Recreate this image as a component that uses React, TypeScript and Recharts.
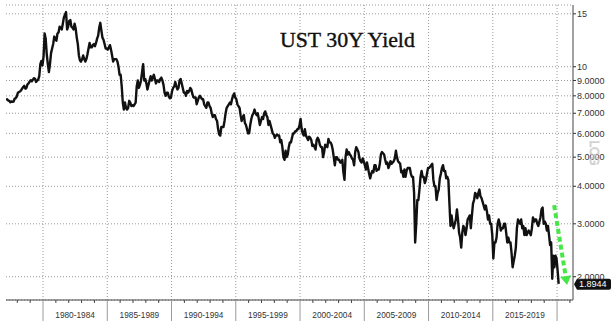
import React from 'react';
import { LineChart, Line, XAxis, YAxis, CartesianGrid, ReferenceLine } from 'recharts';

// Monthly UST 30Y yield, Feb 1977 .. Feb 2020
const startYear = 1977;
const startMonth = 2;
const yields1977_1979 = [
  7.75, 7.80, 7.72, 7.70, 7.62, 7.66, 7.64, 7.66, 7.82, 7.86, 7.96,
  8.18, 8.24, 8.27, 8.34, 8.45, 8.56, 8.64, 8.45, 8.50, 8.74, 8.80, 8.92,
  9.02, 8.94, 9.06, 9.16, 9.12, 8.90, 8.98, 9.06, 9.30, 10.20, 10.45, 10.10,
];
const yields1980_1984 = [
  10.80, 12.90, 12.40, 11.00, 10.20, 9.60, 10.20, 11.10, 11.50, 11.90, 12.60, 12.40,
  12.20, 12.90, 13.00, 13.60, 13.50, 13.30, 13.90, 14.60, 14.90, 15.20, 13.30, 13.60,
  14.20, 14.30, 13.60, 13.50, 13.30, 13.90, 13.40, 12.50, 11.90, 10.90, 10.50, 10.40,
  10.60, 10.90, 10.60, 10.40, 10.60, 11.00, 11.50, 12.00, 11.60, 11.60, 11.80, 11.90,
  11.70, 12.00, 12.40, 12.70, 13.50, 14.00, 13.20, 12.50, 12.30, 11.90, 11.50, 11.50,
];
const yields1985_1989 = [
  11.40, 11.60, 11.80, 11.40, 10.90, 10.40, 10.60, 10.60, 10.60, 10.40, 10.00, 9.40,
  9.40, 8.60, 7.60, 7.20, 7.60, 7.30, 7.20, 7.30, 7.70, 7.60, 7.40, 7.45,
  7.40, 7.50, 7.60, 8.60, 9.00, 8.50, 8.70, 9.00, 9.60, 10.20, 9.00, 9.10,
  8.80, 8.40, 8.70, 9.00, 9.30, 9.00, 9.20, 9.40, 9.10, 8.80, 9.00, 9.00,
  8.90, 9.10, 9.20, 9.00, 8.70, 8.20, 8.00, 8.20, 8.20, 7.95, 7.85, 7.90,
];
const yields1990_1994 = [
  8.30, 8.50, 8.60, 8.90, 8.60, 8.40, 8.50, 9.00, 9.10, 8.80, 8.50, 8.20,
  8.20, 8.00, 8.30, 8.20, 8.30, 8.50, 8.40, 8.10, 7.90, 7.90, 7.90, 7.50,
  7.70, 7.90, 8.00, 7.90, 7.80, 7.80, 7.50, 7.40, 7.30, 7.60, 7.60, 7.40,
  7.30, 7.00, 6.80, 6.90, 6.90, 6.70, 6.60, 6.20, 5.95, 5.90, 6.30, 6.30,
  6.30, 6.60, 7.00, 7.30, 7.40, 7.50, 7.60, 7.50, 7.80, 8.00, 8.15, 7.90,
];
const yields1995_1999 = [
  7.80, 7.50, 7.40, 7.30, 6.90, 6.60, 6.80, 6.90, 6.50, 6.40, 6.20, 6.00,
  6.00, 6.40, 6.70, 6.90, 7.00, 7.20, 7.00, 6.90, 7.00, 6.70, 6.40, 6.60,
  6.80, 6.70, 7.00, 7.10, 6.90, 6.80, 6.40, 6.60, 6.40, 6.20, 6.00, 5.95,
  5.80, 5.90, 5.95, 5.90, 5.90, 5.60, 5.70, 5.40, 5.00, 4.90, 5.25, 5.00,
  5.10, 5.40, 5.60, 5.60, 5.80, 6.00, 6.00, 6.10, 6.10, 6.20, 6.20, 6.40,
];
const yields2000_2004 = [
  6.70, 6.20, 6.00, 5.90, 6.20, 5.90, 5.80, 5.70, 5.85, 5.80, 5.70, 5.45,
  5.50, 5.40, 5.30, 5.70, 5.80, 5.70, 5.50, 5.40, 5.40, 5.00, 5.20, 5.50,
  5.45, 5.40, 5.75, 5.60, 5.60, 5.50, 5.30, 5.00, 4.70, 5.00, 5.00, 4.90,
  4.90, 4.80, 4.80, 4.90, 4.45, 4.20, 5.00, 5.30, 5.10, 5.20, 5.10, 5.05,
  4.95, 4.90, 4.70, 5.20, 5.40, 5.30, 5.20, 4.95, 4.85, 4.80, 4.95, 4.85,
];
const yields2005_2009 = [
  4.70, 4.55, 4.80, 4.60, 4.40, 4.25, 4.40, 4.50, 4.45, 4.70, 4.70, 4.50,
  4.55, 4.55, 4.75, 5.10, 5.20, 5.15, 5.10, 4.90, 4.75, 4.80, 4.60, 4.70,
  4.85, 4.75, 4.80, 4.85, 4.95, 5.25, 5.00, 4.85, 4.80, 4.75, 4.45, 4.50,
  4.30, 4.55, 4.30, 4.50, 4.60, 4.60, 4.60, 4.40, 4.30, 4.30, 3.80, 2.60,
  3.00, 3.60, 3.60, 3.90, 4.30, 4.50, 4.30, 4.30, 4.10, 4.20, 4.40, 4.60,
];
const yields2010_2014 = [
  4.60, 4.65, 4.70, 4.75, 4.20, 4.00, 4.00, 3.60, 3.80, 3.90, 4.25, 4.40,
  4.60, 4.70, 4.50, 4.50, 4.25, 4.30, 4.20, 3.50, 2.95, 3.20, 3.00, 2.90,
  3.00, 3.10, 3.35, 3.10, 2.80, 2.70, 2.50, 2.80, 2.95, 2.90, 2.75, 2.90,
  3.10, 3.15, 3.20, 2.90, 3.20, 3.50, 3.60, 3.80, 3.75, 3.65, 3.80, 3.90,
  3.70, 3.65, 3.55, 3.45, 3.35, 3.45, 3.30, 3.10, 3.20, 3.00, 3.00, 2.75,
];
const yields2015_2019 = [
  2.30, 2.60, 2.60, 2.70, 3.00, 3.10, 3.00, 2.85, 2.90, 2.90, 3.00, 3.00,
  2.80, 2.60, 2.70, 2.60, 2.60, 2.40, 2.15, 2.25, 2.35, 2.50, 2.90, 3.10,
  3.05, 3.00, 3.10, 2.90, 2.95, 2.75, 2.90, 2.75, 2.80, 2.85, 2.80, 2.75,
  2.90, 3.15, 3.05, 3.10, 3.10, 3.00, 2.95, 3.05, 3.15, 3.35, 3.40, 3.00,
  3.05, 3.00, 2.85, 2.95, 2.75, 2.55, 2.60, 1.97, 2.35, 2.15, 2.35, 2.30,
];
const yields2020 = [2.10, 1.8944];

const periodStarts = [1980, 1985, 1990, 1995, 2000, 2005, 2010, 2015];
const periodLabels = ['1980-1984', '1985-1989', '1990-1994', '1995-1999', '2000-2004', '2005-2009', '2010-2014', '2015-2019'];
const separatorYears = [1980, 1985, 1990, 1995, 2000, 2005, 2010, 2015, 2020];
const yearTicks = [1978, 1979, 1981, 1982, 1983, 1984, 1986, 1987, 1988, 1989, 1991, 1992, 1993, 1994, 1996, 1997, 1998, 1999, 2001, 2002, 2003, 2004, 2006, 2007, 2008, 2009, 2011, 2012, 2013, 2014, 2016, 2017, 2018, 2019, 2021];
const yTicks = [2, 3, 4, 5, 6, 7, 8, 9, 10, 15];
const title = 'UST 30Y Yield';
const arrowStart = { t: 2019.77, v: 3.46 };
const arrowEnd = { t: 2020.78, v: 1.877 };

const allYields = [
  ...yields1977_1979, ...yields1980_1984, ...yields1985_1989, ...yields1990_1994,
  ...yields1995_1999, ...yields2000_2004, ...yields2005_2009, ...yields2010_2014,
  ...yields2015_2019, ...yields2020,
];
const data = allYields.map((v, i) => {
  const m = startMonth - 1 + i;
  return { t: startYear + m / 12 + 1 / 24, v };
});
const lastValue = data[data.length - 1].v;
const labelPositions = periodStarts.map((s) => s + 2.5);
const xTicks = [...yearTicks, ...separatorYears, ...labelPositions];

const FONT = '"Liberation Sans", Arial, sans-serif';

const XTick = (props: any) => {
  const { x, y, payload } = props;
  const v = payload.value;
  const li = labelPositions.indexOf(v);
  if (li >= 0) {
    return (
      <text x={x} y={y + 16} textAnchor="middle" dominantBaseline="middle" fontSize={8.3} fontFamily={FONT} fill="#333">
        {periodLabels[li]}
      </text>
    );
  }
  if (separatorYears.indexOf(v) >= 0) {
    return <line x1={x} x2={x} y1={y} y2={y + 21} stroke="#9a9a9a" strokeWidth={1} />;
  }
  return <line x1={x} x2={x} y1={y} y2={y + 3} stroke="#444" strokeWidth={1} />;
};

const fmtY = (v: number) => (v >= 10 ? String(v) : v.toFixed(4));

const ArrowShape = (props: any) => {
  const { x1, y1, x2, y2 } = props;
  if (x1 == null || x2 == null) return null;
  const dx = x2 - x1;
  const dy = y2 - y1;
  const len = Math.sqrt(dx * dx + dy * dy);
  const ux = dx / len;
  const uy = dy / len;
  const headLen = 9;
  const headW = 5.5;
  const bx = x2 - ux * headLen;
  const by = y2 - uy * headLen;
  const px = -uy;
  const py = ux;
  return (
    <g>
      <line x1={x1} y1={y1} x2={bx} y2={by} stroke="#46e646" strokeWidth={4} strokeDasharray="5 3" />
      <polygon
        points={`${x2},${y2} ${bx + px * headW},${by + py * headW} ${bx - px * headW},${by - py * headW}`}
        fill="#46e646"
      />
    </g>
  );
};

const LastLabel = (props: any) => {
  const { viewBox } = props;
  if (!viewBox) return null;
  const x = viewBox.x + viewBox.width;
  const y = viewBox.y + 0.5;
  return (
    <g>
      <path
        d={`M${x + 1},${y} L${x + 4},${y - 5.5} L${x + 36},${y - 5.5} Q${x + 38},${y - 5.5} ${x + 38},${y - 3.5} L${x + 38},${y + 3.5} Q${x + 38},${y + 5.5} ${x + 36},${y + 5.5} L${x + 4},${y + 5.5} Z`}
        fill="#111"
      />
      <text x={x + 6} y={y + 0.5} dominantBaseline="middle" fontSize={9} fontFamily={FONT} fill="#fff">
        {lastValue.toFixed(4)}
      </text>
    </g>
  );
};

export default function App() {
  return (
    <div style={{ position: 'absolute', left: 0, top: 0, width: 613, height: 330, background: '#fff' }}>
      <LineChart width={613} height={330} data={data} margin={{ top: 5, right: 0, bottom: 0, left: 6 }}>
        <CartesianGrid vertical={false} stroke="#9a9a9a" strokeDasharray="1 2" />
        {separatorYears.map((s) => (
          <ReferenceLine key={s} x={s} stroke="#9a9a9a" strokeDasharray="1 2" />
        ))}
        <XAxis
          type="number"
          dataKey="t"
          domain={[1977.12, 2021.24]}
          ticks={xTicks}
          interval={0}
          allowDataOverflow
          tick={(p: any) => <XTick {...p} />}
          tickLine={false}
          tickSize={0}
          tickMargin={0}
          height={30}
          axisLine={{ stroke: '#444' }}
        />
        <YAxis
          orientation="right"
          type="number"
          scale="log"
          domain={[1.673, 16.05]}
          ticks={yTicks}
          interval={0}
          allowDataOverflow
          width={40}
          tickFormatter={fmtY}
          tickSize={3}
          tickMargin={1}
          axisLine={{ stroke: '#444' }}
          tickLine={{ stroke: '#333' }}
          tick={{ fontSize: 9, fill: '#333', fontFamily: FONT }}
        />
        <Line type="linear" dataKey="v" stroke="#111" strokeWidth={2.4} strokeLinejoin="round" dot={false} isAnimationActive={false} />
        <ReferenceLine
          segment={[{ x: arrowStart.t, y: arrowStart.v }, { x: arrowEnd.t, y: arrowEnd.v }]}
          shape={(p: any) => <ArrowShape {...p} />}
        />
        <ReferenceLine y={lastValue} stroke="none" label={(p: any) => <LastLabel {...p} />} />
      </LineChart>
      <svg width={613} height={330} style={{ position: 'absolute', left: 0, top: 0, pointerEvents: 'none' }}>
        <text
          x={280}
          y={47}
          fontSize={21.8}
          fontFamily='"Liberation Serif", "Times New Roman", serif'
          fill="#111"
          stroke="#111"
          strokeWidth={0.4}
        >
          {title}
        </text>
        <text
          x={593}
          y={153}
          transform="rotate(90 593 153)"
          textAnchor="middle"
          dominantBaseline="middle"
          fontSize={12}
          fontFamily={FONT}
          fill="none"
          stroke="#c8c8c8"
          strokeWidth={0.7}
        >
          LOG
        </text>
      </svg>
    </div>
  );
}
